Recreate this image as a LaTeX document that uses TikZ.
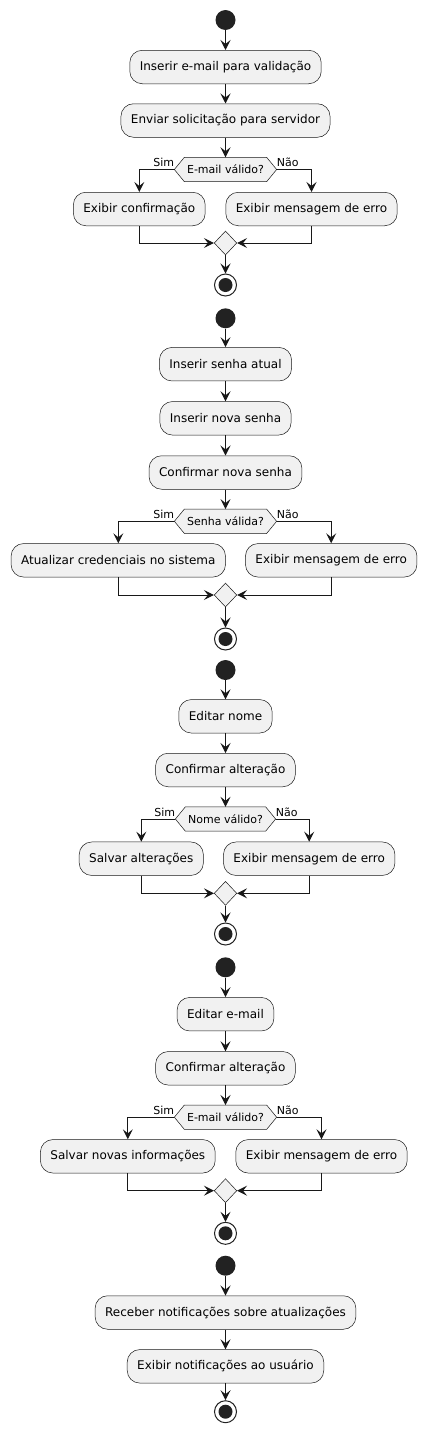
\documentclass[tikz,border=0pt]{standalone}
\usepackage{fontspec}
\setmainfont{DejaVu Sans}
\usetikzlibrary{arrows.meta,backgrounds,shapes.geometric}
\definecolor{boxfill}{HTML}{F1F1F1}
\definecolor{ink}{HTML}{181818}
\definecolor{dot}{HTML}{222222}
\tikzset{
  x=1pt, y=-1pt,
  act/.style={draw=ink, line width=0.5pt, fill=boxfill, rounded corners=12.5pt,
    minimum height=33.5pt, inner xsep=10pt, inner ysep=0pt,
    font=\fontsize{12}{14}\selectfont, text=black},
  hexn/.style={minimum height=24pt, inner xsep=12.5pt, inner ysep=0pt,
    font=\fontsize{11}{13}\selectfont, text=black},
  merge/.style={draw=ink, line width=0.5pt, fill=boxfill, diamond, minimum width=22.6pt, minimum height=24pt, inner sep=0pt},
  startn/.style={circle, fill=dot, minimum size=20pt, inner sep=0pt},
  endn/.style={circle, draw=dot, line width=1pt, fill=white, minimum size=22pt, inner sep=0pt,
    path picture={\fill[dot] (path picture bounding box.center) circle (7pt);}},
  flow/.style={draw=ink, line width=1pt, -{Stealth[length=10pt,width=10pt,inset=4pt]}},
  lbl/.style={font=\fontsize{11}{13}\selectfont, inner sep=0pt},
}
\newcommand{\hexdraw}[1]{%
  \begin{scope}[on background layer]
  \draw[draw=ink, line width=0.5pt, fill=boxfill]
    (#1.west) -- ([xshift=10pt]#1.north west) -- ([xshift=-10pt]#1.north east)
    -- (#1.east) -- ([xshift=-10pt]#1.south east) -- ([xshift=10pt]#1.south west) -- cycle;
  \end{scope}}
\begin{document}
\begin{tikzpicture}
\useasboundingbox (0,0) rectangle (427,1435);
% ---------- Diagram 1
\node[startn] (s1) at (225.5,20) {};
\node[act] (b11) at (225.5,67) {Inserir e-mail para validação};
\node[act] (b12) at (225.5,120.5) {Enviar solicitação para servidor};
\node[hexn] (h1) at (225.5,169.5) {E-mail válido?};
\hexdraw{h1}
\node[act] (b13) at (139.3,209) {Exibir confirmação};
\node[act] (b14) at (311.5,209) {Exibir mensagem de erro};
\node[merge] (m1) at (225.5,243) {};
\node[endn] (e1) at (225.5,285) {};
\node[lbl, anchor=base east] (l11) at ([yshift=3pt]h1.west) {Sim};
\node[lbl, anchor=base west] (l12) at ([yshift=3pt]h1.east) {Não};
\draw[flow] (s1) -- (b11);
\draw[flow] (b11) -- (b12);
\draw[flow] (b12) -- (h1.north);
\draw[flow] (h1.west) -| (b13.north);
\draw[flow] (h1.east) -| (b14.north);
\draw[flow] (b13.south) |- (m1.west);
\draw[flow] (b14.south) |- (m1.east);
\draw[flow] (m1.south) -- (e1);
% ---------- Diagram 2
\node[startn] (s2) at (225.5,318.3) {};
\node[act] (b21) at (225.5,364.2) {Inserir senha atual};
\node[act] (b22) at (225.5,418.3) {Inserir nova senha};
\node[act] (b23) at (225.5,472.5) {Confirmar nova senha};
\node[hexn] (h2) at (225.5,521.3) {Senha válida?};
\hexdraw{h2}
\node[act] (b24) at (118.3,560.3) {Atualizar credenciais no sistema};
\node[act] (b25) at (331.2,560.3) {Exibir mensagem de erro};
\node[merge] (m2) at (225.5,595) {};
\node[endn] (e2) at (225.5,639) {};
\node[lbl, anchor=base east] (l21) at ([yshift=3pt]h2.west) {Sim};
\node[lbl, anchor=base west] (l22) at ([yshift=3pt]h2.east) {Não};
\draw[flow] (s2) -- (b21);
\draw[flow] (b21) -- (b22);
\draw[flow] (b22) -- (b23);
\draw[flow] (b23) -- (h2.north);
\draw[flow] (h2.west) -| (b24.north);
\draw[flow] (h2.east) -| (b25.north);
\draw[flow] (b24.south) |- (m2.west);
\draw[flow] (b25.south) |- (m2.east);
\draw[flow] (m2.south) -- (e2);
% ---------- Diagram 3
\node[startn] (s3) at (225.5,670) {};
\node[act] (b31) at (225.5,716.3) {Editar nome};
\node[act] (b32) at (225.5,770) {Confirmar alteração};
\node[hexn] (h3) at (225.5,819) {Nome válido?};
\hexdraw{h3}
\node[act] (b33) at (141.3,858.7) {Salvar alterações};
\node[act] (b34) at (309.2,858.7) {Exibir mensagem de erro};
\node[merge] (m3) at (225.5,893.3) {};
\node[endn] (e3) at (225.5,934) {};
\node[lbl, anchor=base east] (l31) at ([yshift=3pt]h3.west) {Sim};
\node[lbl, anchor=base west] (l32) at ([yshift=3pt]h3.east) {Não};
\draw[flow] (s3) -- (b31);
\draw[flow] (b31) -- (b32);
\draw[flow] (b32) -- (h3.north);
\draw[flow] (h3.west) -| (b33.north);
\draw[flow] (h3.east) -| (b34.north);
\draw[flow] (b33.south) |- (m3.west);
\draw[flow] (b34.south) |- (m3.east);
\draw[flow] (m3.south) -- (e3);
% ---------- Diagram 4
\node[startn] (s4) at (225.5,967.3) {};
\node[act] (b41) at (225.5,1014.2) {Editar e-mail};
\node[act] (b42) at (225.5,1068.3) {Confirmar alteração};
\node[hexn] (h4) at (225.5,1117.2) {E-mail válido?};
\hexdraw{h4}
\node[act] (b43) at (127.8,1156.3) {Salvar novas informações};
\node[act] (b44) at (321.5,1156.3) {Exibir mensagem de erro};
\node[merge] (m4) at (225.5,1190.7) {};
\node[endn] (e4) at (225.5,1233.3) {};
\node[lbl, anchor=base east] (l41) at ([yshift=3pt]h4.west) {Sim};
\node[lbl, anchor=base west] (l42) at ([yshift=3pt]h4.east) {Não};
\draw[flow] (s4) -- (b41);
\draw[flow] (b41) -- (b42);
\draw[flow] (b42) -- (h4.north);
\draw[flow] (h4.west) -| (b43.north);
\draw[flow] (h4.east) -| (b44.north);
\draw[flow] (b43.south) |- (m4.west);
\draw[flow] (b44.south) |- (m4.east);
\draw[flow] (m4.south) -- (e4);
% ---------- Diagram 5
\node[startn] (s5) at (225.5,1265.7) {};
\node[act] (b51) at (225.5,1312.5) {Receber notificações sobre atualizações};
\node[act] (b52) at (225.5,1366.3) {Exibir notificações ao usuário};
\node[endn] (e5) at (225.5,1411.7) {};
\draw[flow] (s5) -- (b51);
\draw[flow] (b51) -- (b52);
\draw[flow] (b52) -- (e5);
\end{tikzpicture}
\end{document}
